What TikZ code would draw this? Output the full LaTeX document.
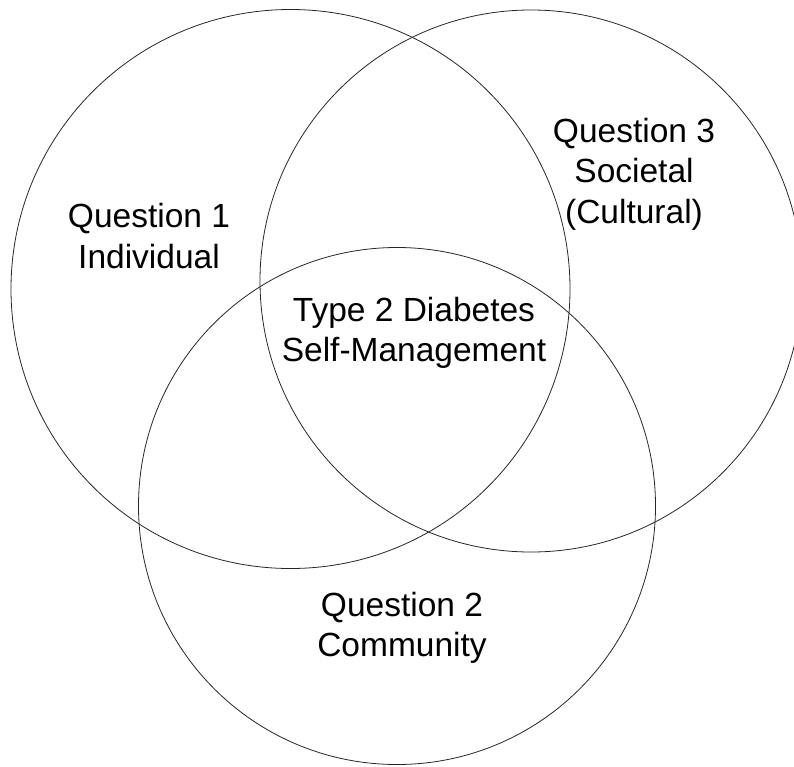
\documentclass[tikz,border=0pt]{standalone}
\usepackage{fontspec}
\setmainfont{Liberation Sans}
\begin{document}
\begin{tikzpicture}[x=1pt,y=-1pt,
  ring/.style={circle,draw=black!85,line width=0.8pt,inner sep=0pt,fill=none},
  lbl/.style={align=center,inner sep=0pt,font=\fontsize{33.5}{40.5}\selectfont}]
\useasboundingbox (0,0) rectangle (794,766);
\node[ring,minimum size=559pt] (c1) at (290.5,289) {};
\node[ring,minimum size=542pt] (c2) at (531,281) {};
\node[ring,minimum size=517pt] (c3) at (397,506) {};
\node[lbl] (q1) at (149,236) {Question 1\\Individual};
\node[lbl] (q3) at (634,174) {Question 3\\Societal\\(Cultural)};
\node[lbl] (t2) at (414,333) {Type 2 Diabetes\\Self-Management};
\node[lbl] (q2) at (402,628) {Question 2\\Community};
\end{tikzpicture}
\end{document}
